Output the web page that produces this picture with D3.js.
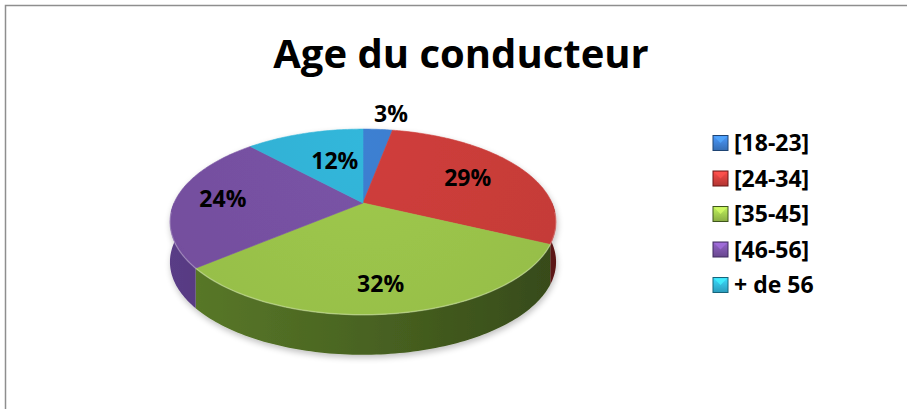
<!DOCTYPE html>
<html>

<head>
  <meta charset="utf-8">
  <script src="https://d3js.org/d3.v7.min.js"></script>
  <style>
    html,
    body {
      margin: 0;
      padding: 0;
      background: #fff;
    }
    svg text {
      font-family: "Open Sans", Lato, sans-serif;
      font-weight: bold;
    }
  </style>
</head>

<body>
  <div id="chart"></div>

  <script>
    var title = "Age du conducteur";
    var categories = ["[18-23]", "[24-34]", "[35-45]", "[46-56]", "+ de 56"];
    var values = [3, 29, 32, 24, 12];
    var labels = ["3%", "29%", "32%", "24%", "12%"];

    var topColors = ["#3b79c7", "#c53b38", "#97bf49", "#744f9e", "#2fadd0"];
    var sideColors = ["#24518a", "#7d1c1a", "#4b6622", "#4b3270", "#1c7892"];

    var width = 907, height = 409;

    var svg = d3.select("#chart")
      .append("svg")
      .attr("width", width)
      .attr("height", height);

    var defs = svg.append("defs");

    // chart frame
    svg.append("path")
      .attr("d", "M5.5," + height + "V5.5H" + width)
      .attr("fill", "none")
      .attr("stroke", "#8e8e8e")
      .attr("stroke-width", 1.5);

    svg.append("text")
      .attr("x", 461)
      .attr("y", 68)
      .attr("text-anchor", "middle")
      .attr("font-size", "40px")
      .attr("fill", "#000")
      .text(title);

    // perspective disk projection
    var cx = 363, cy = 203;   // apex of the pie
    var kx = 189, ky = 89;    // horizontal / vertical radius factors
    var persp = 0.204;        // perspective strength
    var depth = 40;

    function project(a, r) {
      // a : angle clockwise from back (12 o'clock), r : radius 0..1
      var X = r * Math.sin(a), Y = -r * Math.cos(a);
      var s = 1 / (1 - persp * Y);
      return [cx + kx * X * s, cy + ky * Y * s];
    }

    var color = d3.scaleOrdinal().domain(categories).range(topColors);
    var sideColor = d3.scaleOrdinal().domain(categories).range(sideColors);

    var pie = d3.pie().sort(null).value(d => d.value).startAngle(0).endAngle(2 * Math.PI);
    var data = categories.map((c, i) => ({ name: c, value: values[i], label: labels[i] }));
    var arcs = pie(data);

    var line = d3.line();

    function arcPoints(a0, a1, r) {
      var n = Math.max(2, Math.ceil((a1 - a0) / 0.02));
      var pts = [];
      for (var j = 0; j <= n; j++) pts.push(project(a0 + (a1 - a0) * j / n, r));
      return pts;
    }

    // gradients
    arcs.forEach((d, i) => {
      var g = defs.append("linearGradient")
        .attr("id", "side" + i)
        .attr("gradientUnits", "userSpaceOnUse")
        .attr("x1", cx - 195).attr("x2", cx + 195)
        .attr("y1", 0).attr("y2", 0);
      g.append("stop").attr("offset", "0").attr("stop-color", d3.color(sideColor(d.data.name)).brighter(0.5));
      g.append("stop").attr("offset", "0.45").attr("stop-color", sideColor(d.data.name));
      g.append("stop").attr("offset", "1").attr("stop-color", d3.color(sideColor(d.data.name)).darker(0.9));

      var t = defs.append("radialGradient")
        .attr("id", "top" + i)
        .attr("gradientUnits", "userSpaceOnUse")
        .attr("cx", cx).attr("cy", cy - 60)
        .attr("r", 260);
      t.append("stop").attr("offset", "0").attr("stop-color", d3.color(color(d.data.name)).brighter(0.15));
      t.append("stop").attr("offset", "0.8").attr("stop-color", color(d.data.name));
      t.append("stop").attr("offset", "1").attr("stop-color", d3.color(color(d.data.name)).darker(0.25));
    });

    var shadow = defs.append("filter").attr("id", "shadow")
      .attr("x", "-10%").attr("y", "-10%").attr("width", "120%").attr("height", "130%");
    shadow.append("feGaussianBlur").attr("in", "SourceAlpha").attr("stdDeviation", 3);
    shadow.append("feOffset").attr("dx", 1).attr("dy", 3).attr("result", "b");
    shadow.append("feComponentTransfer").append("feFuncA").attr("type", "linear").attr("slope", 0.25);
    var merge = shadow.append("feMerge");
    merge.append("feMergeNode");
    merge.append("feMergeNode").attr("in", "SourceGraphic");

    var pieG = svg.append("g").attr("filter", "url(#shadow)");

    // side walls (front half only)
    arcs.forEach((d, i) => {
      var a0 = Math.max(d.startAngle, Math.PI / 2);
      var a1 = Math.min(d.endAngle, 3 * Math.PI / 2);
      if (a1 <= a0) return;
      var topPts = arcPoints(a0, a1, 1);
      var botPts = topPts.slice().reverse().map(p => [p[0], p[1] + depth]);
      pieG.append("path")
        .attr("d", line(topPts.concat(botPts)) + "Z")
        .attr("fill", "url(#side" + i + ")");
    });

    // top faces
    arcs.forEach((d, i) => {
      var pts = [project(0, 0)].concat(arcPoints(d.startAngle, d.endAngle, 1));
      pieG.append("path")
        .attr("d", line(pts) + "Z")
        .attr("fill", "url(#top" + i + ")")
        .attr("stroke", "url(#top" + i + ")")
        .attr("stroke-width", 0.6);
    });

    // slight highlight on the front rim
    svg.append("path")
      .attr("d", line(arcPoints(Math.PI / 2 + 0.1, 3 * Math.PI / 2 - 0.1, 1)))
      .attr("fill", "none")
      .attr("stroke", "#ffffff")
      .attr("stroke-opacity", 0.25)
      .attr("stroke-width", 1.5);

    // data label placement (radius along slice middle, extra x shift)
    var labelR = [1.275, 0.66, 0.77, 0.75, 0.56];
    var labelDx = [10, 0, -4, 0, 7];
    arcs.forEach((d, i) => {
      var mid = (d.startAngle + d.endAngle) / 2;
      var p = project(mid, labelR[i]);
      svg.append("text")
        .attr("x", p[0] + labelDx[i])
        .attr("y", p[1])
        .attr("dy", "0.36em")
        .attr("text-anchor", "middle")
        .attr("font-size", "23px")
        .attr("fill", "#000")
        .text(d.data.label);
    });

    // legend
    var ly = d3.scalePoint().domain(categories).range([143, 285]);
    var legend = svg.append("g");
    categories.forEach((c, i) => {
      var g = legend.append("g").attr("transform", "translate(713," + ly(c) + ")");
      var lg = defs.append("linearGradient").attr("id", "leg" + i)
        .attr("x1", 0).attr("x2", 0).attr("y1", 0).attr("y2", 1);
      lg.append("stop").attr("offset", "0").attr("stop-color", d3.color(color(c)).brighter(0.7));
      lg.append("stop").attr("offset", "1").attr("stop-color", d3.color(color(c)).darker(0.3));
      g.append("rect")
        .attr("x", 0).attr("y", -7.5)
        .attr("width", 15).attr("height", 15)
        .attr("fill", "url(#leg" + i + ")")
        .attr("stroke", d3.color(sideColor(c)).darker(0.5))
        .attr("stroke-width", 1);
      g.append("path")
        .attr("d", "M1,-6.5L7.5,0L14,-6.5Z")
        .attr("fill", d3.color(color(c)).brighter(1))
        .attr("opacity", 0.7);
      g.append("text")
        .attr("x", 21)
        .attr("y", 0)
        .attr("dy", "0.36em")
        .attr("font-size", "23px")
        .attr("fill", "#000")
        .text(c);
    });
  </script>
</body>

</html>
